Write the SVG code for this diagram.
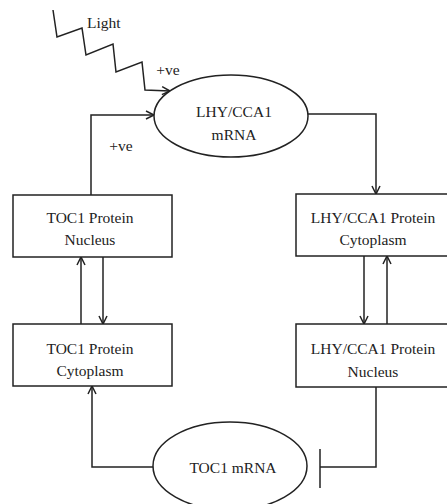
<svg xmlns="http://www.w3.org/2000/svg" width="447" height="504" viewBox="0 0 447 504">
<style>
.s{fill:none;stroke:#222;stroke-width:1.5}
.b{fill:#fff;stroke:#222;stroke-width:1.5}
text{font-family:"Liberation Serif","Times New Roman",serif;font-size:15.5px;fill:#222;text-anchor:middle}
</style>
<defs>
<marker id="a" markerUnits="userSpaceOnUse" markerWidth="12" markerHeight="12" refX="9" refY="5" orient="auto">
<path d="M1,1 L9,5 L1,9" fill="none" stroke="#222" stroke-width="1.5"/>
</marker>
</defs>
<rect width="447" height="504" fill="#fff"/>
<g id="connectors">
<polyline class="s" points="53,10 57,37 82,28 86,55 113,44 116,72 142,62 145,90 170,91" marker-end="url(#a)"/>
<polyline class="s" points="91,195 91,115 154,115" marker-end="url(#a)"/>
<polyline class="s" points="308,114 376,114 376,194" marker-end="url(#a)"/>
<line class="s" x1="81" y1="324" x2="81" y2="257" marker-end="url(#a)"/>
<line class="s" x1="103" y1="257" x2="103" y2="324" marker-end="url(#a)"/>
<line class="s" x1="364" y1="256" x2="364" y2="324" marker-end="url(#a)"/>
<line class="s" x1="387" y1="324" x2="387" y2="256" marker-end="url(#a)"/>
<polyline class="s" points="153,467 92,467 92,386" marker-end="url(#a)"/>
<polyline class="s" points="376,387 376,467 320,467"/>
<line class="s" x1="320" y1="449" x2="320" y2="488"/>
<text x="87" y="28" style="text-anchor:start">Light</text>
<text x="168" y="75">+ve</text>
<text x="121" y="151">+ve</text>
</g>
<g id="lhy-mrna">
<ellipse class="b" cx="231" cy="116" rx="77" ry="41"/>
<text x="234" y="117">LHY/CCA1</text>
<text x="234" y="140">mRNA</text>
</g>
<g id="toc1-nucleus">
<rect class="b" x="13" y="195" width="159" height="62"/>
<text x="90" y="223">TOC1 Protein</text>
<text x="90" y="245">Nucleus</text>
</g>
<g id="toc1-cytoplasm">
<rect class="b" x="13" y="324" width="159" height="62"/>
<text x="90" y="354">TOC1 Protein</text>
<text x="90" y="376">Cytoplasm</text>
</g>
<g id="lhy-cytoplasm">
<rect class="b" x="296" y="194" width="158" height="62"/>
<text x="373" y="223">LHY/CCA1 Protein</text>
<text x="373" y="245">Cytoplasm</text>
</g>
<g id="lhy-nucleus">
<rect class="b" x="296" y="324" width="158" height="63"/>
<text x="373" y="354">LHY/CCA1 Protein</text>
<text x="373" y="377">Nucleus</text>
</g>
<g id="toc1-mrna">
<ellipse class="b" cx="230" cy="466" rx="77" ry="44"/>
<text x="233" y="473">TOC1 mRNA</text>
</g>
</svg>
